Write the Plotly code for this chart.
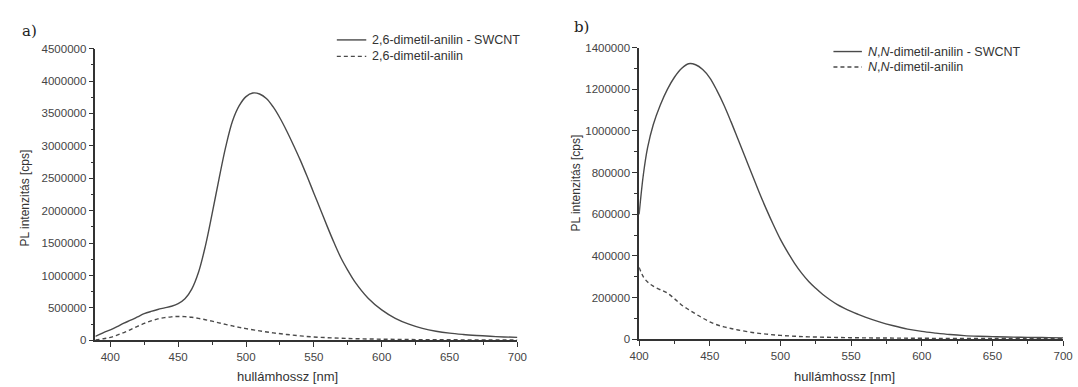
import plotly.graph_objects as go

# Panel a: 2,6-dimetil-anilin
wl_a_swcnt = [389, 395, 400, 405, 410, 415, 420, 425, 430, 435, 440, 445, 450, 455, 460, 465, 470, 475,
              480, 485, 490, 495, 500, 505, 510, 515, 520, 525, 530, 535, 540, 545, 550, 555, 560, 565,
              570, 575, 580, 590, 600, 610, 620, 630, 640, 650, 660, 670, 680, 690, 700]
pl_a_swcnt = [60, 120, 160, 210, 265, 310, 360, 410, 445, 475, 500, 525, 565, 640, 790, 1050, 1450, 1950,
              2480, 2980, 3380, 3620, 3760, 3815, 3800, 3730, 3600, 3430, 3230, 3010, 2780, 2530, 2270, 2010,
              1750, 1500, 1270, 1080, 910, 650, 470, 340, 250, 185, 140, 110, 90, 75, 62, 52, 45]
wl_a_free = [389, 395, 400, 405, 410, 415, 420, 425, 430, 435, 440, 445, 450, 455, 460, 465, 470, 475,
             480, 485, 490, 495, 500, 510, 520, 530, 540, 550, 560, 570, 580, 600, 620, 640, 660, 680, 700]
pl_a_free = [5, 25, 45, 80, 120, 165, 215, 260, 300, 330, 350, 362, 368, 365, 355, 338, 318, 295,
             270, 245, 222, 200, 180, 145, 115, 90, 68, 52, 40, 32, 25, 17, 12, 9, 7, 5, 4]

# Panel b: N,N-dimetil-anilin
wl_b_swcnt = [400, 403, 406, 410, 415, 420, 425, 430, 435, 440, 445, 450, 455, 460, 465, 470, 475, 480,
              485, 490, 495, 500, 505, 510, 515, 520, 525, 530, 535, 540, 545, 550, 555, 560, 570, 580,
              590, 600, 610, 620, 630, 640, 650, 660, 670, 680, 690, 700]
pl_b_swcnt = [600, 790, 920, 1030, 1125, 1200, 1258, 1300, 1323, 1318, 1295, 1255, 1195, 1125, 1045, 960,
              875, 790, 705, 625, 550, 480, 420, 365, 318, 278, 245, 215, 190, 168, 150, 134, 120, 107,
              84, 65, 49, 38, 30, 23, 18, 15, 13, 11, 10, 9, 8, 7]
wl_b_free = [400, 403, 406, 410, 415, 420, 425, 430, 435, 440, 445, 450, 455, 460, 465, 470, 480, 490,
             500, 510, 520, 540, 560, 580, 600, 650, 700]
pl_b_free = [345, 300, 275, 255, 238, 222, 195, 165, 143, 122, 102, 84, 70, 60, 52, 45, 33, 25,
             19, 15, 12, 9, 7, 6, 5, 4, 3]

x_ticks = [400, 450, 500, 550, 600, 650, 700]
y_ticks_a = [0, 500000, 1000000, 1500000, 2000000, 2500000, 3000000, 3500000, 4000000, 4500000]
y_ticks_b = [0, 200000, 400000, 600000, 800000, 1000000, 1200000, 1400000]

legend_a = ["2,6-dimetil-anilin - SWCNT", "2,6-dimetil-anilin"]
legend_b = ["<i>N</i>,<i>N</i>-dimetil-anilin - SWCNT", "<i>N</i>,<i>N</i>-dimetil-anilin"]

LINE = "#4a4a4a"
AX = "#333333"
FONT = "Arial, Liberation Sans, sans-serif"
DASH = "4px,3px"

fig = go.Figure()
fig.add_trace(go.Scatter(x=wl_a_swcnt, y=[v * 1000 for v in pl_a_swcnt], mode="lines", line_shape="spline",
                         line=dict(color=LINE, width=1.4), name=legend_a[0], xaxis="x", yaxis="y"))
fig.add_trace(go.Scatter(x=wl_a_free, y=[v * 1000 for v in pl_a_free], mode="lines", line_shape="spline",
                         line=dict(color=LINE, width=1.4, dash=DASH), name=legend_a[1], xaxis="x", yaxis="y"))
fig.add_trace(go.Scatter(x=wl_b_swcnt, y=[v * 1000 for v in pl_b_swcnt], mode="lines", line_shape="spline",
                         line=dict(color=LINE, width=1.4), name=legend_b[0], xaxis="x2", yaxis="y2"))
fig.add_trace(go.Scatter(x=wl_b_free, y=[v * 1000 for v in pl_b_free], mode="lines", line_shape="spline",
                         line=dict(color=LINE, width=1.4, dash=DASH), name=legend_b[1], xaxis="x2", yaxis="y2"))

W, H = 1078, 387
def px(v):
    return v / W
def py(v):
    return 1 - v / H

common_x = dict(showline=True, linecolor=AX, linewidth=1.5, ticks="outside", ticklen=5, tickwidth=1.2,
                tickcolor=AX, showgrid=False, zeroline=False, tickvals=x_ticks,
                tickfont=dict(family=FONT, size=11.5, color="#444"),
                minor=dict(dtick=25, ticks="outside", ticklen=3, tickcolor=AX, tickwidth=1))
common_y = dict(showline=True, linecolor=AX, linewidth=1.5, ticks="outside", ticklen=5, tickwidth=1.2,
                tickcolor=AX, showgrid=False, zeroline=False, tickformat="d",
                tickfont=dict(family=FONT, size=11.5, color="#444"))

fig.update_layout(
    width=W, height=H, margin=dict(l=0, r=0, t=0, b=0),
    plot_bgcolor="white", paper_bgcolor="white", showlegend=False,
    xaxis=dict(domain=[px(87), px(517)], range=[389, 700], anchor="y", **common_x),
    yaxis=dict(domain=[py(345), py(44)], range=[0, 4500000], anchor="x", tickvals=y_ticks_a,
               minor=dict(dtick=250000, ticks="outside", ticklen=3, tickcolor=AX, tickwidth=1), **common_y),
    xaxis2=dict(domain=[px(641), px(1073)], range=[400, 700], anchor="y2", **common_x),
    yaxis2=dict(domain=[py(344), py(43)], range=[0, 1400000], anchor="x2", tickvals=y_ticks_b,
                minor=dict(dtick=100000, ticks="outside", ticklen=3, tickcolor=AX, tickwidth=1), **common_y),
)

annotations = [
    dict(text="a)", x=px(10), y=py(26), xanchor="left", yanchor="middle",
         font=dict(family="DejaVu Serif, Liberation Serif, serif", size=15, color="#222")),
    dict(text="b)", x=px(573), y=py(22), xanchor="left", yanchor="middle",
         font=dict(family="DejaVu Serif, Liberation Serif, serif", size=15, color="#222")),
    dict(text="hullámhossz [nm]", x=px(283), y=py(382), xanchor="center", yanchor="middle",
         font=dict(family=FONT, size=13, color="#333")),
    dict(text="hullámhossz [nm]", x=px(850), y=py(382), xanchor="center", yanchor="middle",
         font=dict(family=FONT, size=13, color="#333")),
    dict(text="PL intenzitás [cps]", x=px(15), y=py(198), xanchor="center", yanchor="middle", textangle=-90,
         font=dict(family=FONT, size=12, color="#333")),
    dict(text="PL intenzitás [cps]", x=px(577), y=py(183), xanchor="center", yanchor="middle", textangle=-90,
         font=dict(family=FONT, size=12, color="#333")),
]

# manual legends (line sample + label)
shapes = []
legend_specs = [
    (legend_a, 333, 363, 367, [35, 52]),
    (legend_b, 839, 868, 872, [47, 63]),
]
for labels, x0, x1, xt, ys in legend_specs:
    for i, (lab, yy) in enumerate(zip(labels, ys)):
        shapes.append(dict(type="line", xref="paper", yref="paper", x0=px(x0), x1=px(x1), y0=py(yy), y1=py(yy),
                           line=dict(color=LINE, width=1.4, dash=None if i == 0 else DASH)))
        annotations.append(dict(text=lab, x=px(xt), y=py(yy), xanchor="left", yanchor="middle",
                                font=dict(family=FONT, size=12.5, color="#333")))

for a in annotations:
    a.update(xref="paper", yref="paper", showarrow=False)
fig.update_layout(annotations=annotations, shapes=shapes)

fig.write_html("out.html")
